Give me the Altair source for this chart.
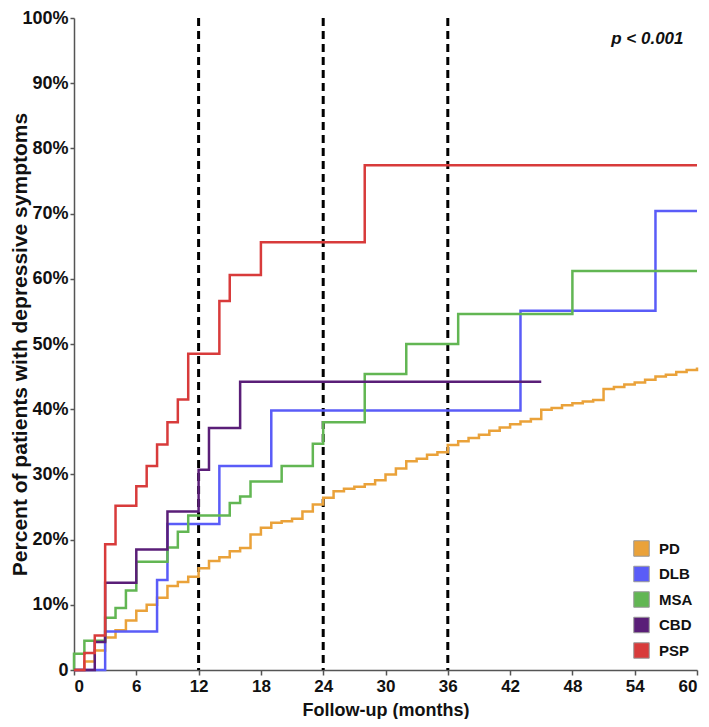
import altair as alt
import pandas as pd

# ---- data ----
groups = ["PD", "DLB", "MSA", "CBD", "PSP"]
colors = ["#EAA23A", "#5A5CF8", "#62B653", "#5A1E78", "#D83B3B"]

pd_months = list(range(0, 61))
pd_values = [0, 1.3, 3.0, 5.0, 6.1, 7.6, 9.1, 10.0, 11.1, 12.9,
             13.5, 14.3, 15.6, 16.7, 17.3, 18.2, 18.7, 20.8, 21.8, 22.6,
             22.8, 23.2, 24.3, 25.4, 26.4, 27.4, 27.8, 28.1, 28.5, 29.1,
             30.0, 30.9, 32.0, 32.4, 33.0, 33.4, 34.5, 35.1, 35.6, 36.1,
             36.7, 37.2, 37.7, 38.1, 38.5, 39.9, 40.2, 40.6, 40.9, 41.2,
             41.4, 43.1, 43.4, 43.8, 44.1, 44.5, 45.0, 45.3, 45.7, 46.0, 46.4]

dlb_months = [0, 3, 8, 9, 14, 19, 43, 56, 60]
dlb_values = [0, 5.9, 13.8, 22.4, 31.3, 39.8, 55.1, 70.4, 70.4]

msa_months = [0, 0, 1, 3, 4, 5, 6, 9, 10, 11, 15, 16, 17, 20, 23, 24, 28, 32, 37, 48, 60]
msa_values = [0, 2.5, 4.5, 8.0, 9.5, 12.2, 16.6, 18.8, 21.2, 23.7, 25.6, 26.6, 28.9,
              31.3, 34.7, 38.0, 45.4, 50.0, 54.6, 61.2, 61.2]

cbd_months = [0, 2, 3, 6, 9, 12, 13, 16, 45]
cbd_values = [0, 4.3, 13.4, 18.5, 24.3, 30.7, 37.1, 44.2, 44.2]

psp_months = [0, 1, 2, 3, 4, 6, 7, 8, 9, 10, 11, 14, 15, 18, 28, 60]
psp_values = [0, 2.6, 5.3, 19.3, 25.2, 28.2, 31.3, 34.6, 38.0, 41.5, 48.5,
              56.6, 60.6, 65.6, 77.4, 77.4]

milestones = [12, 24, 36]
x_ticks = [0, 6, 12, 18, 24, 30, 36, 42, 48, 54, 60]
y_ticks = [0, 10, 20, 30, 40, 50, 60, 70, 80, 90, 100]
p_text = ["p < 0.001"]
p_month = [58.7]
p_pct = [96.8]

# ---- tables ----
rows = []
for g, ms, vs in [("PD", pd_months, pd_values), ("DLB", dlb_months, dlb_values),
                  ("MSA", msa_months, msa_values), ("CBD", cbd_months, cbd_values),
                  ("PSP", psp_months, psp_values)]:
    for i, (m, v) in enumerate(zip(ms, vs)):
        rows.append({"group": g, "month": m, "pct": v, "idx": i})
df = pd.DataFrame(rows)
df_rules = pd.DataFrame({"month": milestones})
df_p = pd.DataFrame({"label": p_text, "month": p_month, "pct": p_pct})

FONT = "Liberation Sans"
W, H = 623, 652

xscale = alt.Scale(domain=[0, 60], nice=False, zero=False)
yscale = alt.Scale(domain=[0, 100], nice=False)
color_scale = alt.Scale(domain=groups, range=colors)

x_axis = alt.Axis(values=x_ticks, format="d", title="Follow-up (months)",
                  grid=False, tickSize=5, labelPadding=3, labelFontSize=17,
                  titleY=40, titleBaseline="middle", titleX=W / 2, titleFontSize=18)
y_axis = alt.Axis(values=y_ticks, labelExpr="datum.value == 0 ? '0' : datum.value + '%'",
                  title="Percent of patients with depressive symptoms",
                  grid=False, tickSize=4, labelPadding=2,
                  titleX=-54, titleY=H / 2, titleAlign="center", titleBaseline="middle",
                  titleAngle=270, titleFontSize=21)

lines = alt.Chart(df).mark_line(interpolate="step-after", strokeWidth=2.5).encode(
    x=alt.X("month:Q", scale=xscale, axis=x_axis),
    y=alt.Y("pct:Q", scale=yscale, axis=y_axis),
    color=alt.Color("group:N", scale=color_scale, legend=None),
    order="idx:Q",
    detail="group:N",
)

legend_layer = alt.Chart(df).mark_square(opacity=0, filled=True).encode(
    x="month:Q",
    y="pct:Q",
    color=alt.Color("group:N", scale=color_scale, sort=groups,
                    legend=alt.Legend(title=None, orient="none", legendX=559, legendY=522,
                                      symbolType="square", symbolSize=240,
                                      symbolOpacity=1, symbolStrokeColor="#9a9a9a",
                                      symbolStrokeWidth=1, labelFont=FONT,
                                      labelFontSize=15, labelFontWeight="bold",
                                      labelColor="#111", labelOffset=9,
                                      rowPadding=4.5, padding=0)),
)

rules = alt.Chart(df_rules).mark_rule(color="black", strokeWidth=3, strokeDash=[8, 5]).encode(
    x="month:Q"
)

ptext = alt.Chart(df_p).mark_text(font=FONT, fontSize=17, fontWeight="bold",
                                  fontStyle="italic", align="right", baseline="middle",
                                  color="#111").encode(
    x="month:Q", y="pct:Q", text="label:N"
)

chart = alt.layer(rules, lines, legend_layer, ptext).resolve_legend(
    color="independent"
).properties(
    width=W, height=H,
    autosize=alt.AutoSizeParams(type="none"),
    padding={"left": 66, "top": 10, "right": 4, "bottom": 49},
).configure_view(stroke=None).configure_axis(
    domainColor="#555", domainWidth=1.5, tickColor="#555", tickWidth=1.5,
    labelFont=FONT, labelFontSize=18, labelFontWeight="bold", labelColor="#111",
    titleFont=FONT, titleFontSize=19, titleFontWeight="bold", titleColor="#111",
)

chart.save("out.html", embed_options={"renderer": "svg", "actions": False})
